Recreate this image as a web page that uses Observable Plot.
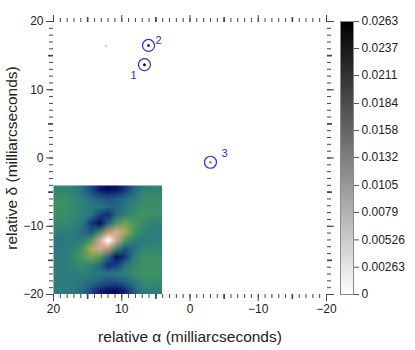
<!DOCTYPE html>
<html><head><meta charset="utf-8">
<script src="https://cdn.jsdelivr.net/npm/d3@7"></script>
<script src="https://cdn.jsdelivr.net/npm/@observablehq/plot@0.6"></script>
<style>
body{margin:0;background:#fff;}
#wrap{position:relative;width:415px;height:350px;font-family:"Liberation Sans",Arial,sans-serif;}
#wrap > div{position:absolute;left:0;top:0;}
</style></head><body>
<div id="wrap"><div id="main"></div><div id="inset"></div><div id="cbar"></div></div>
<script>
// ---- data ----
const sourceRA   = [6.67, 6.08, -3.0, 12.3];
const sourceDec  = [13.67, 16.49, -0.62, 16.4];
const sourceFlux = [0.024, 0.021, 0.011, 0.004];

const circledIds = ["1", "2", "3"];
const circledRA  = [6.67, 6.08, -3.0];
const circledDec = [13.67, 16.49, -0.62];

const axisMajor = [20, 10, 0, -10, -20];
const axisMid   = [15, 5, -5, -15];
const axisMinor = d3.range(-20, 21);

const cbarTicks  = [0, 0.00263, 0.00526, 0.0079, 0.0105, 0.0132, 0.0158, 0.0184, 0.0211, 0.0237, 0.0263];
const cbarLabels = ["0", "0.00263", "0.00526", "0.0079", "0.0105", "0.0132", "0.0158", "0.0184", "0.0211", "0.0237", "0.0263"];
const fluxMax = 0.0263;

// beam (inset) image, rows top->bottom, columns left->right
const beamRows = [
  [0.06, 0.06, 0.04, -0.05, -0.15, -0.28, -0.33, -0.30, -0.20, -0.08, 0.03, 0.05, 0.06],
  [0.10, 0.10, 0.07, 0.03, -0.05, -0.10, -0.12, -0.10, -0.05, 0.02, 0.08, 0.10, 0.10],
  [0.11, 0.11, 0.08, 0.04, 0.02, -0.01, -0.07, -0.07, 0.00, 0.05, 0.10, 0.11, 0.10],
  [0.10, 0.10, 0.07, 0.03, -0.02, -0.17, -0.22, -0.06, 0.04, 0.09, 0.12, 0.11, 0.10],
  [0.08, 0.08, 0.05, -0.01, -0.20, -0.32, -0.07, 0.16, 0.24, 0.16, 0.11, 0.05, 0.04],
  [0.04, 0.03, 0.02, -0.06, -0.12, 0.10, 0.50, 0.66, 0.38, 0.15, 0.07, 0.03, 0.03],
  [-0.01, 0.00, 0.02, 0.03, 0.17, 0.64, 1.00, 0.64, 0.17, 0.03, 0.02, 0.03, 0.03],
  [0.00, 0.02, 0.05, 0.15, 0.38, 0.66, 0.50, 0.10, -0.12, -0.05, 0.04, 0.07, 0.07],
  [0.02, 0.03, 0.09, 0.16, 0.24, 0.16, -0.07, -0.32, -0.20, 0.02, 0.10, 0.11, 0.10],
  [0.02, 0.03, 0.06, 0.09, 0.04, -0.06, -0.22, -0.17, -0.02, 0.07, 0.11, 0.12, 0.11],
  [0.02, 0.02, 0.03, 0.04, 0.02, -0.02, -0.02, 0.02, 0.04, 0.08, 0.11, 0.12, 0.11],
  [0.02, 0.02, 0.02, 0.00, -0.05, -0.09, -0.13, -0.13, -0.09, 0.00, 0.07, 0.09, 0.07],
  [0.02, 0.02, 0.00, -0.06, -0.15, -0.25, -0.32, -0.33, -0.25, -0.10, 0.02, 0.04, 0.04]
];
const beamExtentRA  = [20, 4];    // left, right edge of the inset in the main frame
const beamExtentDec = [-4, -20];  // top, bottom edge
const beamStops  = [-0.33, -0.22, -0.12, -0.03, 0.03, 0.10, 0.17, 0.28, 0.40, 0.52, 0.65, 0.80, 1.0];
const beamColors = ["#080c5f", "#142d7d", "#1e5587", "#287382", "#2d7d7c", "#3a8e68", "#4e9c56", "#8caa50", "#b9a55a", "#c89169", "#d7a596", "#f0d7d2", "#ffffff"];

// ---- build ----
const sources = sourceRA.map((x, i) => ({x, y: sourceDec[i], f: sourceFlux[i]}));
const circled = circledIds.map((id, i) => ({id, x: circledRA[i], y: circledDec[i]}));
const labelDx = [-11, 10, 14];
const labelDy = [11, -5, -9];

const tickStroke = "#444";
const font = "'Liberation Sans', Arial, sans-serif";
const noLabel = () => "";

function xTicks(anchor, ticks, size, sw, labelled) {
  return Plot.axisX({anchor, ticks, tickSize: size, tickPadding: 3, strokeWidth: sw,
    stroke: tickStroke, label: null, tickFormat: labelled ? undefined : noLabel});
}
function yTicks(anchor, ticks, size, sw, labelled) {
  return Plot.axisY({anchor, ticks, tickSize: size, tickPadding: 3, strokeWidth: sw,
    stroke: tickStroke, label: null, tickFormat: labelled ? undefined : noLabel});
}

const main = Plot.plot({
  width: 415, height: 350,
  marginLeft: 53, marginRight: 89, marginTop: 21, marginBottom: 56,
  style: {fontFamily: font, fontSize: "12px", color: "#222", background: "transparent"},
  x: {domain: [20, -20], axis: null},
  y: {domain: [-20, 20], axis: null},
  color: {type: "linear", domain: [0, fluxMax], range: ["white", "black"]},
  marks: [
    xTicks("bottom", axisMinor, 4, 1, false),
    xTicks("bottom", axisMid, 5, 1.6, false),
    xTicks("bottom", axisMajor, 7, 1, true),
    xTicks("top", axisMinor, 4, 1, false),
    xTicks("top", axisMid, 5, 1.6, false),
    xTicks("top", axisMajor, 7, 1, false),
    yTicks("left", axisMinor, 4, 1, false),
    yTicks("left", axisMid, 5, 1.6, false),
    yTicks("left", axisMajor, 7, 1, true),
    yTicks("right", axisMinor, 4, 1, false),
    yTicks("right", axisMid, 5, 1.6, false),
    yTicks("right", axisMajor, 7, 1, false),
    Plot.text(["relative \u03b1 (milliarcseconds)"], {frameAnchor: "bottom", dy: 43, lineAnchor: "middle", textAnchor: "middle", fontSize: 15.5, text: d => d}),
    Plot.text(["relative \u03b4 (milliarcseconds)"], {frameAnchor: "left", dx: -41, rotate: -90, lineAnchor: "middle", textAnchor: "middle", fontSize: 15.5, text: d => d}),
    Plot.dot(sources, {x: "x", y: "y", r: 1.5, fill: "f"}),
    Plot.dot(circled, {x: "x", y: "y", r: 6, stroke: "#2a2af0", strokeWidth: 1.2}),
    ...circled.map((c, i) => Plot.text([c], {x: "x", y: "y", text: "id", dx: labelDx[i], dy: labelDy[i], fill: "#2a2af0", fontSize: 11}))
  ]
});
document.getElementById("main").appendChild(main);

// inset beam image, placed with the main plot's scales
const sx = main.scale("x"), sy = main.scale("y");
const ix0 = sx.apply(beamExtentRA[0]), ix1 = sx.apply(beamExtentRA[1]);
const iy0 = sy.apply(beamExtentDec[0]), iy1 = sy.apply(beamExtentDec[1]);
const nCols = beamRows[0].length, nRows = beamRows.length;
const inset = Plot.plot({
  width: Math.round(ix1 - ix0), height: Math.round(iy1 - iy0), margin: 0,
  style: {background: "transparent"},
  x: {domain: [0, nCols], axis: null},
  y: {domain: [nRows, 0], axis: null},
  color: {type: "linear", domain: beamStops, range: beamColors},
  marks: [
    Plot.raster(beamRows.flat(), {width: nCols, height: nRows, x1: 0, x2: nCols, y1: 0, y2: nRows})
  ]
});
const insetDiv = document.getElementById("inset");
insetDiv.style.left = Math.round(ix0) + "px";
insetDiv.style.top = Math.round(iy0) + "px";
insetDiv.appendChild(inset);

// colour bar
const cbar = Plot.plot({
  width: 75, height: 350,
  marginLeft: 0, marginRight: 62, marginTop: 21, marginBottom: 56,
  style: {fontFamily: font, fontSize: "12px", color: "#222", background: "transparent"},
  x: {domain: [0, 1], axis: null},
  y: {domain: [0, fluxMax], axis: null},
  color: {type: "linear", domain: [0, fluxMax], range: ["white", "black"]},
  marks: [
    Plot.raster({x1: 0, x2: 1, y1: 0, y2: fluxMax, fill: (x, y) => y, pixelSize: 1}),
    Plot.frame({stroke: "#8a8a8a"}),
    Plot.axisY({anchor: "right", ticks: cbarTicks, tickSize: 5, tickPadding: 3, stroke: "#555",
      label: null, tickFormat: d => cbarLabels[cbarTicks.indexOf(d)]})
  ]
});
const cbarDiv = document.getElementById("cbar");
cbarDiv.style.left = "340px";
cbarDiv.appendChild(cbar);
</script>
</body></html>
